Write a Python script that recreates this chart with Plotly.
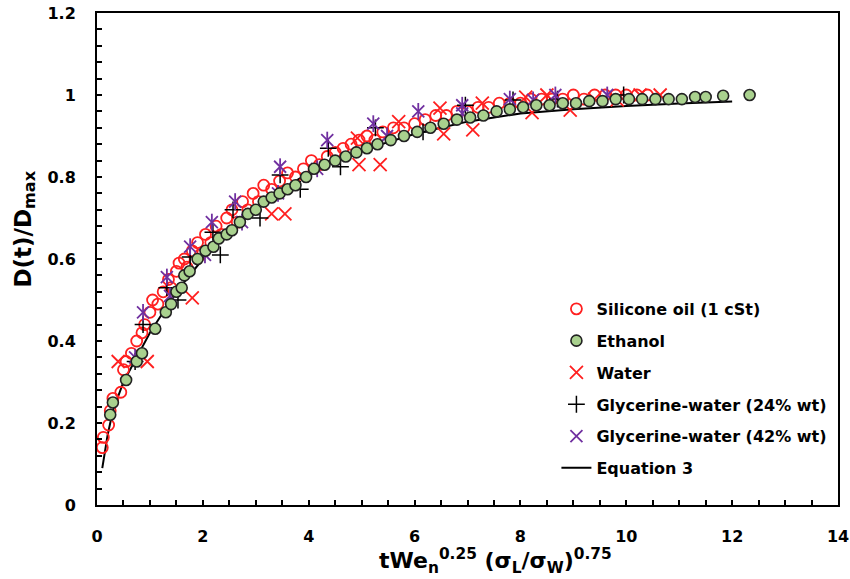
import plotly.graph_objects as go

# ---- data ----
sil_x = [0.10,0.12,0.22,0.25,0.30,0.45,0.50,0.55,0.65,0.75,0.85,0.90,1.00,1.05,1.15,1.25,1.35,1.40,1.50,1.55,
         1.65,1.70,1.80,1.90,1.95,2.05,2.15,2.25,2.35,2.45,2.55,2.65,2.75,2.85,2.95,3.05,3.15,3.30,3.45,3.60,
         3.75,3.90,4.05,4.20,4.35,4.50,4.65,4.80,4.95,5.10,5.25,5.40,5.60,5.80,6.00,6.20,6.40,6.60,6.80,7.00,
         7.20,7.40,7.60,7.80,8.00,8.20,8.40,8.60,8.80,9.00,9.20,9.40,9.60,9.80,10.00,10.20,10.40]
sil_y = [0.14,0.165,0.195,0.23,0.26,0.275,0.33,0.35,0.37,0.40,0.42,0.44,0.47,0.50,0.49,0.52,0.55,0.53,0.57,0.59,
         0.60,0.58,0.62,0.64,0.61,0.66,0.64,0.68,0.66,0.70,0.72,0.69,0.74,0.72,0.76,0.74,0.78,0.77,0.79,0.81,
         0.80,0.82,0.84,0.83,0.85,0.86,0.87,0.88,0.89,0.90,0.89,0.91,0.92,0.92,0.93,0.94,0.95,0.95,0.96,0.96,
         0.97,0.97,0.98,0.98,0.98,0.99,0.99,0.99,0.99,1.00,0.99,1.00,1.00,1.00,1.00,1.00,1.00]

eth_x = [0.25,0.30,0.55,0.75,0.85,1.10,1.30,1.40,1.50,1.60,1.65,1.75,1.90,2.05,2.20,2.30,2.45,2.55,2.70,2.85,
         3.00,3.15,3.30,3.45,3.60,3.75,3.95,4.10,4.30,4.50,4.70,4.90,5.10,5.30,5.55,5.80,6.05,6.30,6.55,6.80,
         7.05,7.30,7.55,7.80,8.05,8.30,8.55,8.80,9.05,9.30,9.55,9.80,10.05,10.30,10.55,10.80,11.05,11.30,11.50,11.83,12.33]
eth_y = [0.22,0.25,0.305,0.35,0.37,0.43,0.47,0.49,0.52,0.53,0.56,0.57,0.60,0.62,0.63,0.65,0.66,0.67,0.69,0.71,
         0.72,0.74,0.75,0.76,0.77,0.78,0.80,0.82,0.83,0.84,0.85,0.86,0.87,0.88,0.89,0.90,0.91,0.92,0.93,0.94,
         0.945,0.95,0.96,0.965,0.97,0.975,0.975,0.98,0.98,0.985,0.985,0.99,0.99,0.99,0.99,0.99,0.99,0.995,0.995,0.998,1.0]

wat_x = [0.40,0.95,1.80,3.30,3.55,4.92,4.95,5.35,5.70,6.48,6.55,7.10,7.28,8.10,8.22,8.50,8.94,9.40,9.83,10.26,10.64]
wat_y = [0.35,0.35,0.505,0.71,0.71,0.895,0.83,0.83,0.935,0.968,0.905,0.915,0.98,0.995,0.957,1.0,0.963,0.99,0.988,1.0,1.0]

g24_x = [0.72,0.87,1.32,1.53,1.76,2.19,2.33,2.57,3.08,3.46,3.84,4.37,4.60,5.26,6.16,6.96,7.86,8.70,9.95]
g24_y = [0.35,0.44,0.53,0.50,0.605,0.665,0.61,0.72,0.70,0.805,0.77,0.87,0.825,0.92,0.91,0.975,0.988,0.99,1.0]

g42_x = [0.72,0.87,1.32,1.38,1.76,2.04,2.17,2.61,2.74,3.42,3.46,4.16,4.35,5.22,5.48,6.07,6.90,6.90,7.80,8.24,8.66,9.64]
g42_y = [0.36,0.47,0.556,0.51,0.63,0.61,0.69,0.74,0.69,0.76,0.825,0.82,0.89,0.93,0.90,0.96,0.975,0.955,0.99,0.988,1.0,1.0]

eq_x = [0.10,0.20,0.30,0.50,0.75,1.00,1.25,1.50,2.00,2.50,3.00,3.50,4.00,4.50,5.00,5.50,6.00,6.50,7.00,7.50,8.00,9.00,10.00,11.00,12.00]
eq_y = [0.09,0.17,0.23,0.30,0.36,0.42,0.47,0.52,0.60,0.67,0.72,0.77,0.81,0.84,0.865,0.885,0.905,0.92,0.935,0.945,0.955,0.965,0.973,0.979,0.984]

x_ticks = [0, 2, 4, 6, 8, 10, 12, 14]
y_ticks = [0, 0.2, 0.4, 0.6, 0.8, 1, 1.2]
y_tick_text = ["0", "0.2", "0.4", "0.6", "0.8", "1", "1.2"]

x_title = "tWe<sub>n</sub><sup>0.25</sup> (σ<sub>L</sub>/σ<sub>W</sub>)<sup>0.75</sup>"
y_title = "D(t)/D<sub>max</sub>"

FONT = "DejaVu Sans"
PURPLE = "#7030a0"
RED = "#ff2020"

fig = go.Figure()

fig.add_trace(go.Scatter(x=eq_x, y=eq_y, mode="lines", name="Equation 3",
                         line=dict(color="black", width=2), legendgroup="g6", legendrank=6))
fig.add_trace(go.Scatter(x=sil_x, y=sil_y, mode="markers", name="Silicone oil (1 cSt)",
                         marker=dict(symbol="circle-open", size=11, color=RED, line=dict(width=1.8)),
                         legendgroup="g1", legendrank=1))
fig.add_trace(go.Scatter(x=wat_x, y=wat_y, mode="markers", name="Water",
                         marker=dict(symbol="x-thin-open", size=13, color=RED, line=dict(width=1.8, color=RED)),
                         legendgroup="g3", legendrank=3))
fig.add_trace(go.Scatter(x=g24_x, y=g24_y, mode="markers", name="Glycerine-water (24% wt)",
                         marker=dict(symbol="cross-thin-open", size=12, color="black", line=dict(width=1.5, color="black")),
                         legendgroup="g4", legendrank=4))
fig.add_trace(go.Scatter(x=g42_x, y=g42_y, mode="markers", name="Glycerine-water (42% wt)",
                         marker=dict(symbol="x-thin-open", size=12, color=PURPLE, line=dict(width=1.8, color=PURPLE)),
                         legendgroup="g5", legendrank=5))
fig.add_trace(go.Scatter(x=g42_x, y=g42_y, mode="markers", showlegend=False,
                         marker=dict(symbol="line-ns-open", size=12, color=PURPLE, line=dict(width=1.8, color=PURPLE)),
                         legendgroup="g5"))
fig.add_trace(go.Scatter(x=eth_x, y=eth_y, mode="markers", name="Ethanol",
                         marker=dict(symbol="circle", size=11, color="#a9d18e", line=dict(width=1.6, color="#222222")),
                         legendgroup="g2", legendrank=2))

axis_common = dict(showline=True, linecolor="black", linewidth=2, mirror=True, automargin=False,
                   showgrid=False, zeroline=False, ticks="inside", ticklen=5, tickwidth=1.5,
                   tickcolor="black",
                   tickfont=dict(family=FONT, size=16, color="black", weight="bold"))

fig.update_xaxes(range=[0, 14], tickvals=x_ticks, ticklabelstandoff=16,
                 minor=dict(dtick=0.5, ticks="inside", ticklen=5, tickwidth=1.5, tickcolor="black"),
                 **axis_common)
fig.update_yaxes(range=[0, 1.2], tickvals=y_ticks, ticktext=y_tick_text, ticklabelstandoff=16,
                 minor=dict(dtick=0.04, ticks="inside", ticklen=5, tickwidth=1.5, tickcolor="black"),
                 **axis_common)

fig.add_annotation(text=x_title, xref="paper", yref="paper", x=0.538, y=-0.113,
                   xanchor="center", yanchor="middle", showarrow=False,
                   font=dict(family=FONT, size=22, color="black", weight="bold"))
fig.add_annotation(text=y_title, xref="paper", yref="paper", x=-0.097, y=0.56,
                   xanchor="center", yanchor="middle", showarrow=False, textangle=-90,
                   font=dict(family=FONT, size=23, color="black", weight="bold"))

fig.update_layout(
    width=850, height=579,
    margin=dict(l=97, r=12, t=13, b=74),
    paper_bgcolor="white", plot_bgcolor="white",
    legend=dict(x=0.62, y=0.433, xanchor="left", yanchor="top",
                bgcolor="rgba(0,0,0,0)", tracegroupgap=8, itemwidth=30,
                font=dict(family=FONT, size=16, color="black", weight="bold")),
    showlegend=True,
)

fig.write_html("out.html")
